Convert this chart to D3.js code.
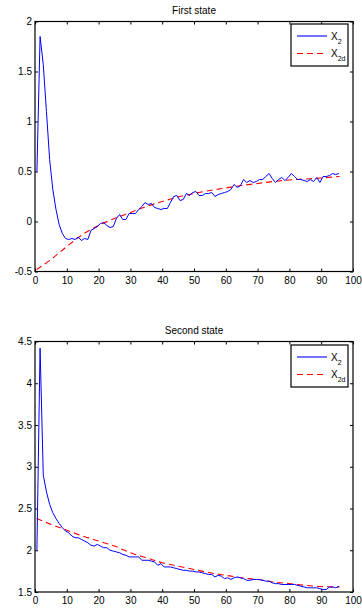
<!DOCTYPE html>
<html>
<head>
<meta charset="utf-8">
<script src="https://cdn.jsdelivr.net/npm/d3@7"></script>
<style>
  body { margin: 0; background: #fff; }
  svg { display: block; font-family: "Liberation Sans", Arial, sans-serif; }
</style>
</head>
<body>
<svg id="chart" width="362" height="616"></svg>
<script>
// sample index (96 samples), drawn at t = i + 0.6
const samples = d3.range(96);

// first state: measured X2
const x2First = [
  0.50, 1.85, 1.57, 1.10, 0.62, 0.32, 0.12, -0.03, -0.12, -0.17,
  -0.18, -0.17, -0.18, -0.155, -0.19, -0.17, -0.18, -0.09, -0.07, -0.05,
  -0.02, -0.01, -0.04, -0.06, -0.05, 0.03, 0.07, 0.02, 0.02, 0.08,
  0.08, 0.08, 0.12, 0.15, 0.19, 0.17, 0.18, 0.14, 0.13, 0.12,
  0.13, 0.13, 0.19, 0.25, 0.26, 0.21, 0.22, 0.28, 0.26, 0.29,
  0.30, 0.26, 0.26, 0.28, 0.28, 0.29, 0.25, 0.27, 0.28, 0.29,
  0.30, 0.32, 0.37, 0.34, 0.36, 0.42, 0.39, 0.41, 0.39, 0.40,
  0.42, 0.42, 0.45, 0.48, 0.43, 0.39, 0.42, 0.44, 0.41, 0.44,
  0.48, 0.45, 0.42, 0.42, 0.41, 0.40, 0.42, 0.40, 0.44, 0.39,
  0.45, 0.45, 0.46, 0.48, 0.47, 0.48
];

// second state: measured X2
const x2Second = [
  2.00, 4.42, 2.90, 2.70, 2.55, 2.45, 2.38, 2.32, 2.27, 2.23,
  2.21, 2.17, 2.15, 2.15, 2.13, 2.11, 2.09, 2.06, 2.05, 2.07,
  2.05, 2.03, 2.03, 2.00, 1.99, 1.98, 1.97, 1.95, 1.94, 1.92,
  1.92, 1.92, 1.92, 1.88, 1.88, 1.88, 1.87, 1.86, 1.82, 1.84,
  1.80, 1.80, 1.80, 1.79, 1.78, 1.77, 1.76, 1.76, 1.75, 1.75,
  1.74, 1.74, 1.73, 1.72, 1.71, 1.71, 1.68, 1.70, 1.69, 1.66,
  1.67, 1.65, 1.67, 1.68, 1.67, 1.66, 1.64, 1.64, 1.65, 1.65,
  1.65, 1.64, 1.63, 1.63, 1.61, 1.60, 1.60, 1.59, 1.59, 1.59,
  1.59, 1.59, 1.58, 1.57, 1.56, 1.55, 1.55, 1.55, 1.55, 1.54,
  1.53, 1.53, 1.56, 1.56, 1.55, 1.57
];

// desired trajectories X2d, read every 5 units
const refTimes = [0.5, 5, 10, 15, 20, 25, 30, 35, 40, 45, 50, 55, 60, 65, 70, 75, 80, 85, 90, 95.8];
const x2dFirst = [-0.48, -0.38, -0.25, -0.13, -0.04, 0.03, 0.09, 0.15, 0.20, 0.245,
                  0.28, 0.31, 0.335, 0.36, 0.38, 0.40, 0.415, 0.425, 0.435, 0.45];
const x2dSecond = [2.38, 2.31, 2.24, 2.17, 2.11, 2.05, 1.97, 1.91, 1.85, 1.81,
                   1.77, 1.73, 1.70, 1.67, 1.65, 1.62, 1.60, 1.58, 1.565, 1.56];

const xTicks = d3.range(0, 101, 10);
const yTicksFirst = [-0.5, 0, 0.5, 1, 1.5, 2];
const yTicksSecond = [1.5, 2, 2.5, 3, 3.5, 4, 4.5];

const svg = d3.select("#chart");
const fmt = d => String(d);

function drawPanel(opts) {
  const x = d3.scaleLinear().domain([0, 100]).range([35, 353]);
  const y = d3.scaleLinear().domain(opts.yDomain).range([opts.bottom, opts.top]);
  const g = svg.append("g");

  // title
  g.append("text")
    .attr("x", 194).attr("y", opts.top - 8)
    .attr("text-anchor", "middle")
    .attr("font-size", 10)
    .attr("fill", "#000")
    .text(opts.title);

  // axes with inward ticks on all four sides
  const bottomAxis = g.append("g")
    .attr("transform", `translate(0,${opts.bottom})`)
    .call(d3.axisBottom(x).tickValues(xTicks).tickFormat(fmt).tickSizeInner(-3).tickSizeOuter(0).tickPadding(5));
  const topAxis = g.append("g")
    .attr("transform", `translate(0,${opts.top})`)
    .call(d3.axisTop(x).tickValues(xTicks).tickSizeInner(-3).tickSizeOuter(0).tickFormat(""));
  const leftAxis = g.append("g")
    .attr("transform", "translate(35,0)")
    .call(d3.axisLeft(y).tickValues(opts.yTicks).tickFormat(fmt).tickSizeInner(-3).tickSizeOuter(0).tickPadding(3));
  const rightAxis = g.append("g")
    .attr("transform", "translate(353,0)")
    .call(d3.axisRight(y).tickValues(opts.yTicks).tickSizeInner(-3).tickSizeOuter(0).tickFormat(""));

  [bottomAxis, topAxis, leftAxis, rightAxis].forEach(a => {
    a.select(".domain").remove();
    a.selectAll("line").attr("stroke", "#000");
    a.selectAll("text").attr("font-size", 10).attr("fill", "#000")
      .attr("font-family", "Liberation Sans, Arial, sans-serif");
  });

  // axis box
  g.append("rect")
    .attr("x", 35).attr("y", opts.top)
    .attr("width", 318).attr("height", opts.bottom - opts.top)
    .attr("fill", "none").attr("stroke", "#000").attr("stroke-width", 1.2);

  // desired trajectory (dashed red)
  const refLine = d3.line()
    .x((d, i) => x(refTimes[i]))
    .y(d => y(d))
    .curve(d3.curveMonotoneX);
  g.append("path")
    .datum(opts.ref)
    .attr("d", refLine)
    .attr("fill", "none")
    .attr("stroke", "#ff0000")
    .attr("stroke-width", 1.1)
    .attr("stroke-dasharray", "6,4");

  // measured state (solid blue)
  const stateLine = d3.line()
    .x((d, i) => x(samples[i] + 0.6))
    .y(d => y(d));
  g.append("path")
    .datum(opts.state)
    .attr("d", stateLine)
    .attr("fill", "none")
    .attr("stroke", "#0000ff")
    .attr("stroke-width", 1);

  // legend
  const lg = g.append("g").attr("transform", `translate(291,${opts.legendTop})`);
  lg.append("rect")
    .attr("width", 57).attr("height", 42)
    .attr("fill", "#fff").attr("stroke", "#000").attr("stroke-width", 1.2);
  const entries = [
    { sub: "2", color: "#0000ff", dash: null, dy: 12 },
    { sub: "2d", color: "#ff0000", dash: "6,4", dy: 29.5 }
  ];
  entries.forEach(e => {
    lg.append("line")
      .attr("x1", 6).attr("x2", 36)
      .attr("y1", e.dy).attr("y2", e.dy)
      .attr("stroke", e.color).attr("stroke-width", 1.1)
      .attr("stroke-dasharray", e.dash);
    const t = lg.append("text")
      .attr("x", 40).attr("y", e.dy + 3.5)
      .attr("font-size", 10).attr("fill", "#000");
    t.append("tspan").text("X");
    t.append("tspan").attr("font-size", 7).attr("dy", 4).text(e.sub);
  });
}

drawPanel({
  title: "First state",
  top: 21.5, bottom: 271.5,
  yDomain: [-0.5, 2], yTicks: yTicksFirst,
  state: x2First, ref: x2dFirst,
  legendTop: 24
});

drawPanel({
  title: "Second state",
  top: 341.5, bottom: 592,
  yDomain: [1.5, 4.5], yTicks: yTicksSecond,
  state: x2Second, ref: x2dSecond,
  legendTop: 345
});
</script>
</body>
</html>
